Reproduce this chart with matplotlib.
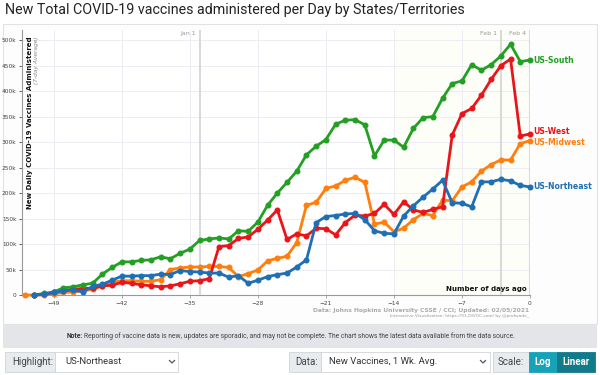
import numpy as np
import matplotlib.pyplot as plt
from matplotlib.patches import Rectangle
from matplotlib.lines import Line2D
from matplotlib.ticker import FuncFormatter

# days before the last update (0 = Feb 4)
days = list(range(-52, 1))

# new vaccines per day, 7-day average, in thousands
south = [np.nan, 0, 3, 6, 14, 16, 20, 23, 41, 54, 65,
         65, 68, 69, 75, 71, 82, 90, 107, 110, 112,
         110, 126, 125, 143, 176, 200, 221, 243, 275, 292,
         305, 335, 343, 344, 334, 273, 304, 304, 290, 327,
         348, 350, 386, 415, 420, 452, 441, 452, 469, 492,
         458, 461]
west = [np.nan, 0, 1, 5, 9, 11, 13, 13, 18, 19, 25,
        23, 20, 18, 16, 18, 22, 27, 28, 32, 95,
        97, 111, 114, 129, 147, 167, 109, 120, 116, 131,
        130, 118, 142, 157, 155, 160, 178, 158, 183, 167,
        162, 168, 173, 314, 356, 366, 392, 423, 450, 463,
        312, 316]
northeast = [np.nan, 0, 2, 5, 8, 10, 6, 17, 21, 29, 37,
             37, 38, 38, 41, 40, 48, 46, 45, 43, 43,
             35, 38, 23, 29, 36, 40, 43, 55, 69, 142,
             154, 156, 159, 160, 148, 126, 121, 120, 155, 175,
             192, 208, 225, 181, 180, 173, 222, 222, 227, 224,
             215, 212]
midwest = [0, 0, 0, 2, 5, 6, 8, 11, 18, 25, 28,
           28, 27, 27, 30, 50, 53, 55, 55, 56, 56,
           54, 36, 42, 49, 67, 72, 76, 103, 176, 182,
           209, 214, 225, 231, 221, 139, 143, 124, 131, 148,
           160, 156, 186, 185, 212, 222, 243, 256, 265, 265,
           297, 303]

regions = ["US-Midwest", "US-West", "US-South", "US-Northeast"]
colors = {"US-South": "#23a023", "US-West": "#e8161b",
          "US-Midwest": "#ff7f0e", "US-Northeast": "#1f6fb5"}
series = {"US-South": south, "US-West": west,
          "US-Midwest": midwest, "US-Northeast": northeast}
label_offsets = {"US-South": 0, "US-West": 4, "US-Midwest": -4, "US-Northeast": 0}

date_marks = [(-34, "Jan 1"), (-3, "Feb 1"), (0, "Feb 4")]
x_ticks = list(range(-49, 1, 7))
y_ticks = list(range(0, 501, 50))

W, H = 600, 375


def fx(x):
    return x / W


def fy(y):
    return 1 - y / H


fig = plt.figure(figsize=(6, 3.75), dpi=100)
fig.patch.set_facecolor("white")

# title
fig.text(fx(5), fy(10), "New Total COVID-19 vaccines administered per Day by States/Territories",
         fontsize=10.3, family="Roboto", va="center", ha="left", color="#222")

# chart panel
fig.patches.append(Rectangle((fx(3), fy(324)), fx(594), 300 / H, transform=fig.transFigure,
                             facecolor="#fdfdfd", edgecolor="#e2e2e2", lw=0.8, zorder=-5))

ax = fig.add_axes([fx(22), fy(295), fx(508), 265 / H])
ax.set_zorder(2)
ax.set_facecolor("white")
ax.axvspan(-14, 0, color="#fefef8", zorder=0)
ax.set_xlim(-52.27, 0)
ax.set_ylim(0, 520)
ax.set_xticks(x_ticks)
ax.set_yticks(y_ticks)
ax.yaxis.set_major_formatter(FuncFormatter(lambda v, p: "0" if v == 0 else f"{int(v)}k"))
ax.tick_params(axis="both", labelsize=4.2, colors="#444", length=2.5, width=0.6, pad=1.5)
ax.tick_params(axis="x", colors="#999", labelcolor="#444")
ax.grid(True, color="#ececf2", lw=0.7)
ax.set_axisbelow(True)
for s in ["top", "right"]:
    ax.spines[s].set_visible(False)
for s in ["left", "bottom"]:
    ax.spines[s].set_color("#999")
    ax.spines[s].set_linewidth(0.8)

for d, lab in date_marks:
    ax.axvline(d, color="#dadada", lw=1.5, zorder=1)
    ax.text(d - 0.35, 513, lab, fontsize=4.5, color="#999", ha="right", va="center")

for r in regions:
    ax.plot(days, series[r], color=colors[r], lw=2, marker="o", ms=3.3,
            clip_on=False, zorder=3)
    ax.text(0.3, series[r][-1] + label_offsets[r], r, color=colors[r], fontsize=5.6,
            fontweight="bold", ha="left", va="center", clip_on=False)

ax.text(0.0155, 0.975, "New Daily COVID-19 Vaccines Administered", transform=ax.transAxes,
        rotation=90, fontsize=5.0, fontweight="bold", va="top", ha="center", color="#111")
ax.text(0.029, 0.975, "(7-day Average)", transform=ax.transAxes, rotation=90,
        fontsize=4.2, style="italic", va="top", ha="center", color="#888")
ax.text(-0.3, 11, "Number of days ago", fontsize=5.1, fontweight="bold", ha="right",
        va="center", color="#111")

fig.text(fx(529), fy(310.5), "Data: Johns Hopkins University CSSE / CCI; Updated: 02/05/2021",
         fontsize=4.3, color="#aaa", fontweight="bold", ha="right", va="center")
fig.text(fx(529), fy(316.5), "Interactive Visualization: https://91-DIVOC.com/ by @profwade_",
         fontsize=3.2, color="#999", ha="right", va="center")

# note strip
fig.patches.append(Rectangle((fx(3), fy(348)), fx(594), 23 / H, transform=fig.transFigure,
                             facecolor="#e4e5e8", edgecolor="none", zorder=-4))
fig.text(fx(67), fy(336.5), "Note:", fontsize=4.9, fontweight="bold", color="#333",
         ha="left", va="center", family="Roboto")
fig.text(fx(84), fy(336.5), "Reporting of vaccine data is new, updates are sporadic, and may not be "
         "complete. The chart shows the latest data available from the data source.",
         fontsize=4.9, color="#444", ha="left", va="center", family="Roboto")


def box(x0, x1, color, edge="#d0d4d8"):
    fig.patches.append(Rectangle((fx(x0), fy(372)), fx(x1 - x0), 20 / H,
                                 transform=fig.transFigure, facecolor=color,
                                 edgecolor=edge, lw=0.6, zorder=-3))


def label(x, text, color="#444", weight="normal", ha="left", size=7.2):
    fig.text(fx(x), fy(362), text, fontsize=size, color=color, fontweight=weight,
             ha=ha, va="center", family="Roboto")


def chevron(x):
    fig.lines.append(Line2D([fx(x - 2.5), fx(x), fx(x + 2.5)], [fy(360.5), fy(363), fy(360.5)],
                            transform=fig.transFigure, color="#555", lw=0.9))


box(5, 55, "#e9ecef")
box(55, 178, "white")
label(12, "Highlight:", size=7.0)
label(65, "US-Northeast", color="#333", size=6.8)
chevron(172)

box(289, 321, "#e9ecef")
box(321, 490, "white")
label(295, "Data:", size=7.0)
label(329, "New Vaccines, 1 Wk. Avg.", color="#333", size=6.8)
chevron(483)

box(493, 529, "#e9ecef")
box(529, 557, "#17a2b8", edge="#17a2b8")
box(557, 595, "#117a8b", edge="#117a8b")
label(498, "Scale:", size=7.0)
label(543, "Log", color="white", weight="bold", ha="center", size=7.0)
label(576, "Linear", color="white", weight="bold", ha="center", size=7.0)

fig.savefig("out.png", dpi=100)
